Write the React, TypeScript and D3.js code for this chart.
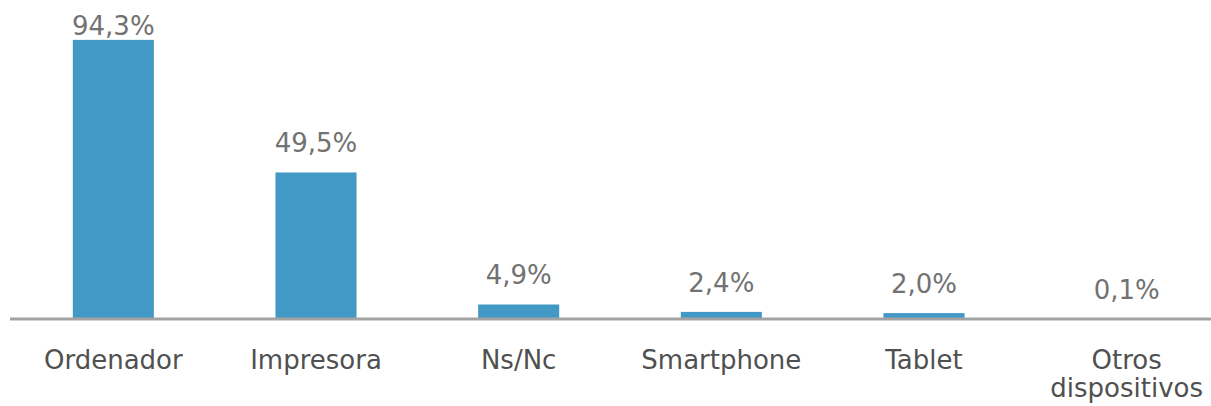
import React from "react";
import * as d3 from "d3";

const categories: string[][] = [
  ["Ordenador"],
  ["Impresora"],
  ["Ns/Nc"],
  ["Smartphone"],
  ["Tablet"],
  ["Otros", "dispositivos"],
];
const values: number[] = [94.3, 49.5, 4.9, 2.4, 2.0, 0.1];
const valueLabels: string[] = ["94,3%", "49,5%", "4,9%", "2,4%", "2,0%", "0,1%"];

const W = 1211;
const H = 406;
const baseY = 319;

export default function App() {
  const keys = categories.map((c) => c.join(" "));
  const x = d3.scaleBand<string>().domain(keys).range([12, 1228]).paddingInner(0.6).paddingOuter(0.3);
  const y = d3.scaleLinear().domain([0, 100]).range([baseY, baseY - 296]);
  const font = "'DejaVu Sans', Verdana, sans-serif";
  return (
    <svg width={W} height={H} style={{ position: "absolute", left: 0, top: 0, background: "#fff" }}>
      {values.map((v, i) => {
        const k = keys[i];
        const x0 = x(k)!;
        const cx = x0 + x.bandwidth() / 2;
        return (
          <g key={k}>
            <rect x={x0} y={y(v)} width={x.bandwidth()} height={baseY - y(v)} fill="#4399c6" />
            <text x={cx} y={Math.max(y(v) - 20, 35)} textAnchor="middle" fontFamily={font} fontSize={26} fill="#727272">
              {valueLabels[i]}
            </text>
            <text textAnchor="middle" fontFamily={font} fontSize={26} fill="#505050">
              {categories[i].map((line, j) => (
                <tspan key={j} x={cx} y={369 + j * 28}>{line}</tspan>
              ))}
            </text>
          </g>
        );
      })}
      <line x1={10} x2={W} y1={baseY} y2={baseY} stroke="#a3a3a3" strokeWidth={3} />
    </svg>
  );
}
